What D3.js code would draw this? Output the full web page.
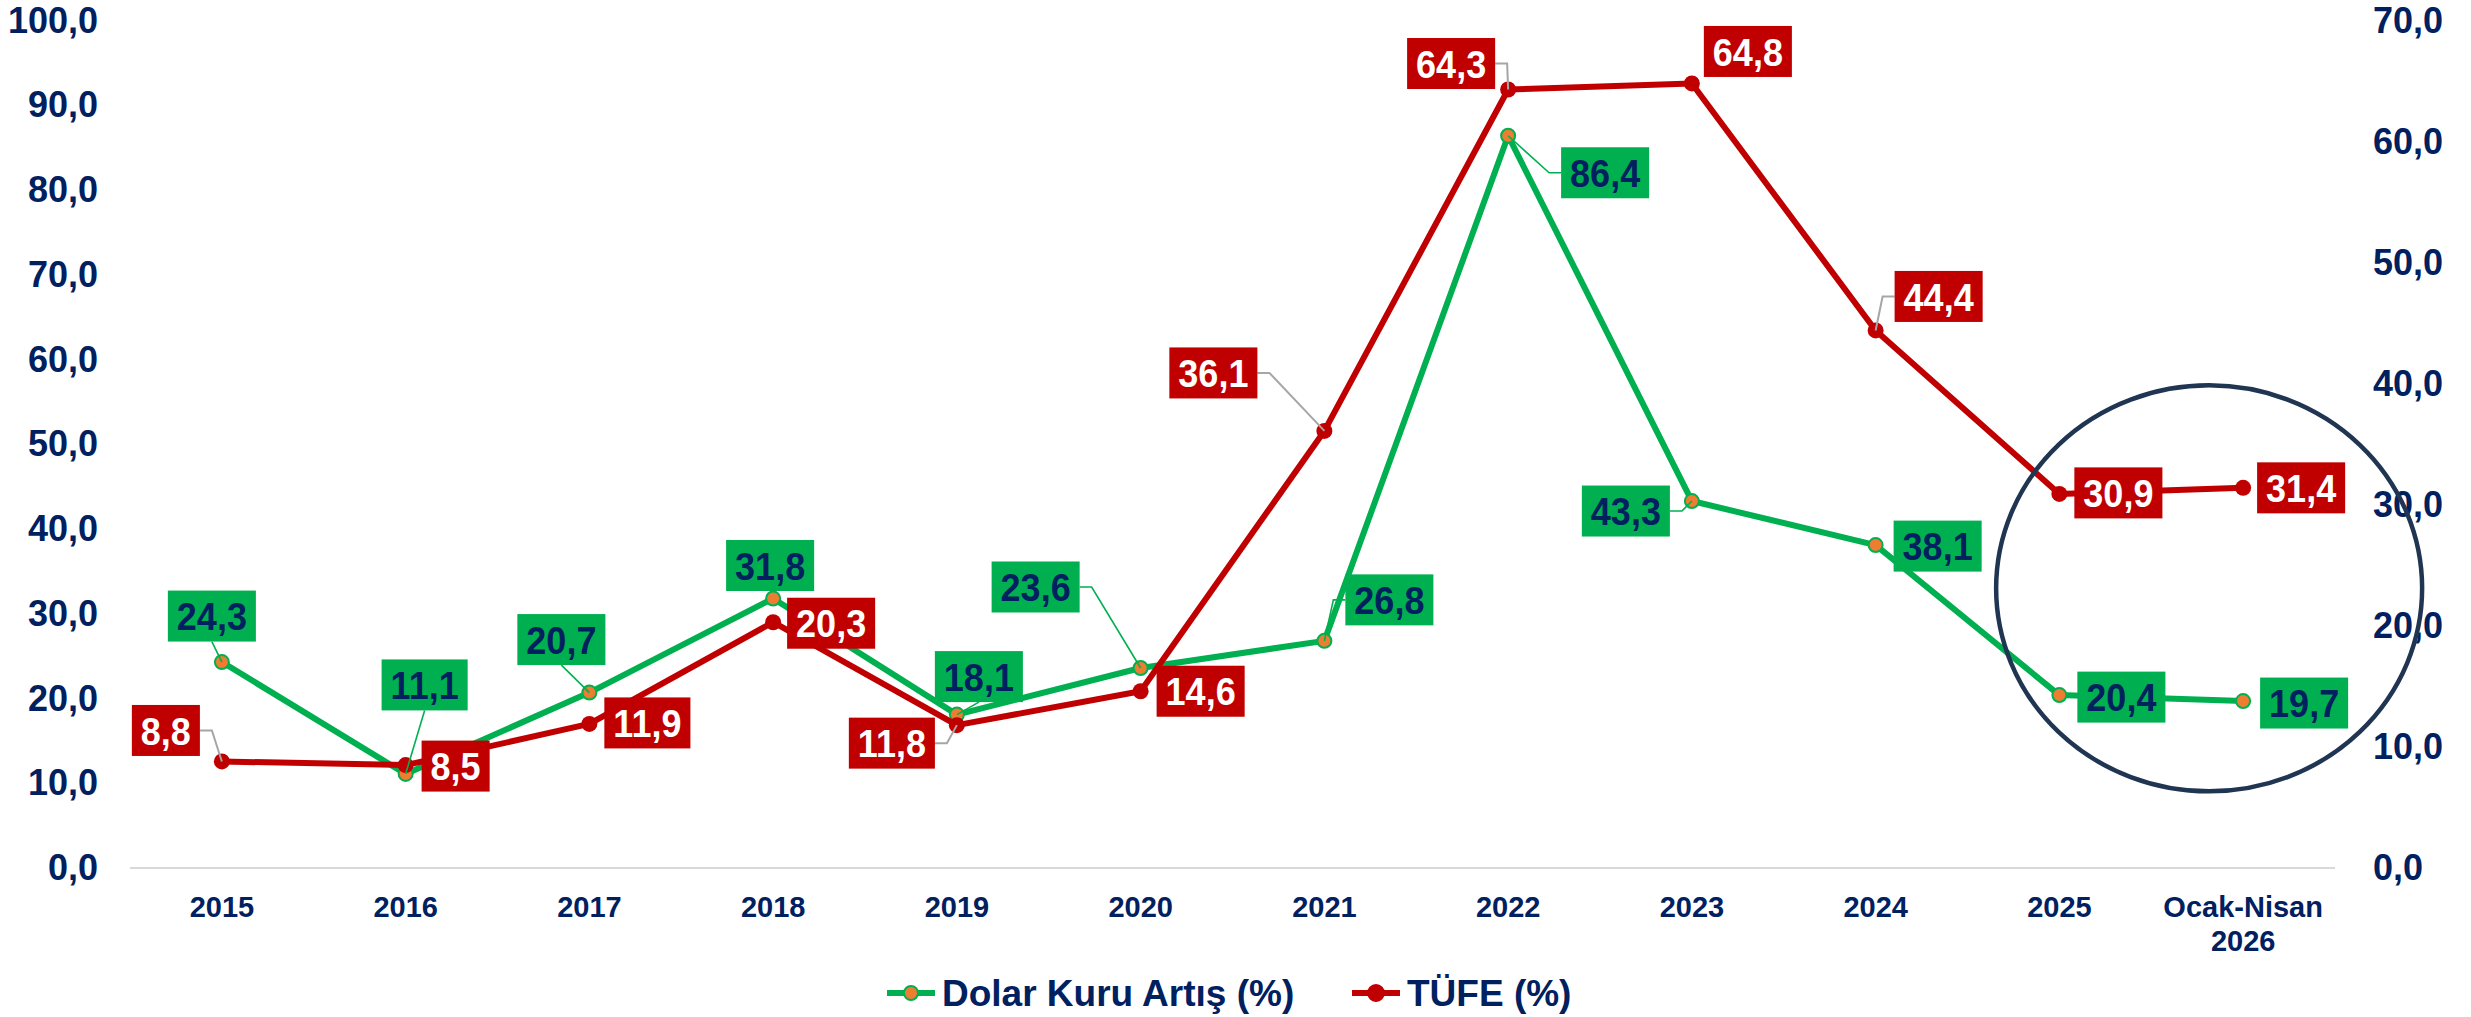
<!DOCTYPE html>
<html>
<head>
<meta charset="utf-8">
<script src="https://cdn.jsdelivr.net/npm/d3@7"></script>
<style>
  html, body { margin: 0; padding: 0; background: #ffffff; }
  svg { display: block; font-family: "Liberation Sans", Arial, sans-serif; font-weight: bold; }
</style>
</head>
<body>
<script>
// Datos del gráfico
const categorias = ["2015", "2016", "2017", "2018", "2019", "2020", "2021", "2022", "2023", "2024", "2025", "Ocak-Nisan 2026"];
const dolarKuru = [24.3, 11.1, 20.7, 31.8, 18.1, 23.6, 26.8, 86.4, 43.3, 38.1, 20.4, 19.7];
const tufe = [8.8, 8.5, 11.9, 20.3, 11.8, 14.6, 36.1, 64.3, 64.8, 44.4, 30.9, 31.4];
const ticksIzq = [0, 10, 20, 30, 40, 50, 60, 70, 80, 90, 100];
const ticksDer = [0, 10, 20, 30, 40, 50, 60, 70];
const series = ["Dolar Kuru Artış (%)", "TÜFE (%)"];

// Posición de las etiquetas respecto al punto: [dx, dy, lado de la línea guía]
const etiquetasDolar = [[-10, -46, "b"], [19, -89, "b"], [-28, -53, "b"], [-3, -33, ""], [22, -38, "b"], [-105, -81, "r"],
  [65, -41, "l"], [97, 37, "l"], [-66, 10, "r"], [62, 1, ""], [62, 2, ""], [61, 2, ""]];
const etiquetasTufe = [[-56, -31, "r"], [50, 1, ""], [58, -1, ""], [58, 1, ""], [-65, 18, "r"], [60, 0, ""],
  [-111, -58, "r"], [-57, -26, "r"], [56, -32, ""], [63, -34, "l"], [59, -1, ""], [58, 0, ""]];

const WIDTH = 2471;
const HEIGHT = 1017;
const PLOT = { left: 130, right: 2335, top: 20.5, bottom: 868 };

const VERDE = "#00B050";
const ROJO = "#C00000";
const NAVY = "#002060";
const NARANJA = "#ED7D31";

const svg = d3.select("body").append("svg")
  .attr("width", WIDTH)
  .attr("height", HEIGHT);

const locale = d3.formatLocale({ decimal: ",", thousands: ".", grouping: [3], currency: ["", ""] });
const fmt = locale.format(".1f");

const escalaX = d3.scaleBand().domain(categorias).range([PLOT.left, PLOT.right]).paddingInner(0).paddingOuter(0);
const cx = (c) => escalaX(c) + escalaX.bandwidth() / 2;
const escalaIzq = d3.scaleLinear().domain([0, 100]).range([PLOT.bottom, PLOT.top]);
const escalaDer = d3.scaleLinear().domain([0, 70]).range([PLOT.bottom, PLOT.top]);

// Línea base
svg.append("line")
  .attr("x1", PLOT.left).attr("x2", PLOT.right)
  .attr("y1", escalaIzq(0)).attr("y2", escalaIzq(0))
  .attr("stroke", "#D9D9D9").attr("stroke-width", 2);

// Ejes
const ejeIzq = svg.append("g")
  .attr("transform", `translate(${PLOT.left},0)`)
  .call(d3.axisLeft(escalaIzq).tickValues(ticksIzq).tickFormat(fmt).tickSize(0).tickPadding(32));
const ejeDer = svg.append("g")
  .attr("transform", `translate(${PLOT.right},0)`)
  .call(d3.axisRight(escalaDer).tickValues(ticksDer).tickFormat(fmt).tickSize(0).tickPadding(38));
const ejeX = svg.append("g")
  .attr("transform", `translate(0,${PLOT.bottom})`)
  .call(d3.axisBottom(escalaX).tickSize(0).tickPadding(28));

[ejeIzq, ejeDer, ejeX].forEach(g => {
  g.select(".domain").remove();
  g.selectAll("text").attr("fill", NAVY).attr("font-family", "Liberation Sans, Arial, sans-serif").attr("font-weight", "bold");
});
ejeIzq.selectAll("text").attr("font-size", 36);
ejeDer.selectAll("text").attr("font-size", 36);
ejeX.selectAll("text").attr("font-size", 29)
  .each(function (d) {
    const partes = d.split(" ");
    if (partes.length > 1) {
      const t = d3.select(this).text(null);
      partes.forEach((p, i) => {
        t.append("tspan").attr("x", 0).attr("dy", i === 0 ? "0.71em" : "1.2em").text(p);
      });
      t.attr("dy", null);
    }
  });

// Líneas
const datosDolar = categorias.map((c, i) => ({ c, v: dolarKuru[i], x: cx(c), y: escalaIzq(dolarKuru[i]) }));
const datosTufe = categorias.map((c, i) => ({ c, v: tufe[i], x: cx(c), y: escalaDer(tufe[i]) }));

const linea = d3.line().x(d => d.x).y(d => d.y);

svg.append("path").datum(datosDolar)
  .attr("d", linea).attr("fill", "none")
  .attr("stroke", VERDE).attr("stroke-width", 6).attr("stroke-linejoin", "round");
svg.selectAll(".m-dolar").data(datosDolar).join("circle")
  .attr("class", "m-dolar")
  .attr("cx", d => d.x).attr("cy", d => d.y).attr("r", 7)
  .attr("fill", NARANJA).attr("stroke", VERDE).attr("stroke-width", 2);

svg.append("path").datum(datosTufe)
  .attr("d", linea).attr("fill", "none")
  .attr("stroke", ROJO).attr("stroke-width", 6).attr("stroke-linejoin", "round");
svg.selectAll(".m-tufe").data(datosTufe).join("circle")
  .attr("class", "m-tufe")
  .attr("cx", d => d.x).attr("cy", d => d.y).attr("r", 8)
  .attr("fill", ROJO);

// Etiquetas de datos con caja y línea guía
function etiquetas(datos, offsets, fondo, colorTexto, colorGuia, anchoGuia) {
  const capaGuias = svg.append("g");
  const capaCajas = svg.append("g");
  datos.forEach((d, i) => {
    const [dx, dy, lado] = offsets[i];
    const bx = d.x + dx;
    const by = d.y + dy;
    const g = capaCajas.append("g").attr("transform", `translate(${bx},${by})`);
    const rect = g.append("rect").attr("fill", fondo);
    const txt = g.append("text")
      .attr("text-anchor", "middle").attr("dy", "0.36em")
      .attr("transform", "scale(1,1.1)")
      .attr("font-size", 36).attr("fill", colorTexto)
      .text(fmt(d.v));
    const w = txt.node().getComputedTextLength() + 18;
    const h = 51;
    rect.attr("x", -w / 2).attr("y", -h / 2).attr("width", w).attr("height", h);

    let puntos = null;
    if (lado === "b") puntos = [[bx, by + h / 2], [d.x, d.y]];
    if (lado === "r") puntos = [[bx + w / 2, by], [bx + w / 2 + 12, by], [d.x, d.y]];
    if (lado === "l") puntos = [[bx - w / 2, by], [bx - w / 2 - 12, by], [d.x, d.y]];
    if (puntos) {
      capaGuias.append("path")
        .attr("d", d3.line()(puntos))
        .attr("fill", "none").attr("stroke", colorGuia).attr("stroke-width", anchoGuia);
    }
  });
}
etiquetas(datosDolar, etiquetasDolar, VERDE, NAVY, VERDE, 1.6);
etiquetas(datosTufe, etiquetasTufe, ROJO, "#FFFFFF", "#A6A6A6", 2);

// Leyenda
const leyenda = svg.append("g").attr("transform", "translate(0,993)");
const itemsLeyenda = [
  { nombre: series[0], x: 887, color: VERDE, relleno: NARANJA, r: 7 },
  { nombre: series[1], x: 1352, color: ROJO, relleno: ROJO, r: 8 },
];
itemsLeyenda.forEach(it => {
  leyenda.append("line").attr("x1", it.x).attr("x2", it.x + 48).attr("y1", 0).attr("y2", 0)
    .attr("stroke", it.color).attr("stroke-width", 6);
  leyenda.append("circle").attr("cx", it.x + 24).attr("cy", 0).attr("r", it.r)
    .attr("fill", it.relleno).attr("stroke", it.color).attr("stroke-width", 2);
  leyenda.append("text").attr("x", it.x + 55).attr("dy", "0.36em")
    .attr("font-size", 37).attr("fill", NAVY).text(it.nombre);
});

// Círculo que resalta los últimos dos periodos
const ultimo = categorias[categorias.length - 1];
svg.append("ellipse")
  .attr("cx", cx(ultimo) - 34)
  .attr("cy", escalaIzq(33))
  .attr("rx", 213).attr("ry", 203)
  .attr("fill", "none").attr("stroke", "#1F3552").attr("stroke-width", 4.5);
</script>
</body>
</html>
